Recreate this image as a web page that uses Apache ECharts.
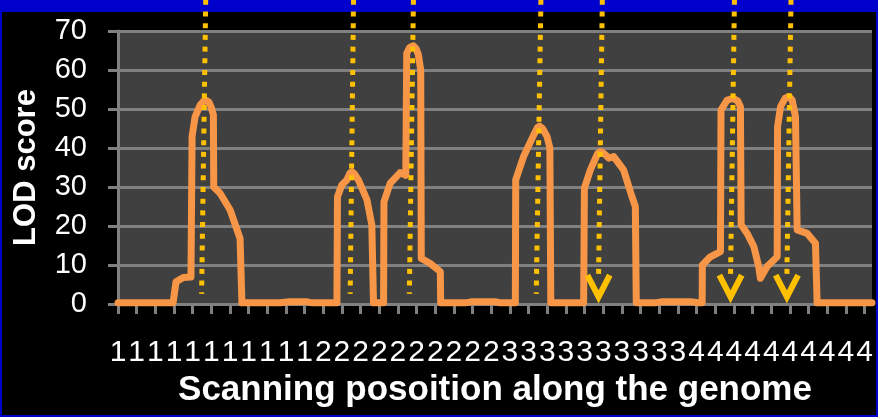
<!DOCTYPE html>
<html>
<head>
<meta charset="utf-8">
<title>LOD score</title>
<script src="https://cdn.jsdelivr.net/npm/echarts@6/dist/echarts.min.js"></script>
<style>
	html, body { margin: 0; padding: 0; background: #000; }
	#lodChart { width: 878px; height: 417px; }
</style>
</head>
<body>
<div id="lodChart"></div>
<script>
/* x axis tick labels, one per tick */
var tickLabels = ['1', '1', '1', '1', '1', '1', '1', '1', '1', '1', '1',
	'2', '2', '2', '2', '2', '2', '2', '2', '2', '2',
	'3', '3', '3', '3', '3', '3', '3', '3', '3', '3',
	'4', '4', '4', '4', '4', '4', '4', '4', '4', '4'];

/* scan position (in tick units) and LOD score */
var lodX = [0, 2.95, 3.11, 3.50, 3.91, 3.97, 4.13, 4.40, 4.58, 4.72, 4.87, 4.99, 5.11, 5.13, 5.47, 6.01, 6.54, 6.62, 6.64,
	8.69, 9.22, 10.08, 10.40, 11.73,
	11.76, 11.99, 12.26, 12.42, 12.53, 12.66, 12.88, 13.34, 13.60, 13.69, 14.23,
	14.25, 14.58, 15.12, 15.42, 15.47, 15.63, 15.83, 15.98, 16.09, 16.22, 16.25, 16.73, 17.27, 17.29,
	18.61, 18.98, 20.21, 20.48, 21.29,
	21.31, 21.73, 22.27, 22.47, 22.59, 22.75, 22.99, 23.14, 23.19, 24.95,
	24.99, 25.31, 25.70, 25.84, 25.98, 26.11, 26.29, 26.56, 27.09, 27.54, 27.72, 27.77,
	28.79, 29.17, 30.67, 31.10, 31.30,
	31.31, 31.74, 32.28, 32.31, 32.64, 32.96, 33.20, 33.35, 33.39, 33.71, 34.07, 34.33, 34.42, 34.78,
	35.32, 35.34, 35.50, 35.75, 35.94, 36.12, 36.30, 36.39, 36.93, 37.37, 37.46, 40.40];
var lodY = [0.3, 0.3, 5.7, 6.8, 6.9, 43, 48, 51, 52, 52.2, 51.8, 50.5, 48.5, 30, 28.4, 24.1, 16.8, 16.3, 0.3,
	0.3, 0.6, 0.6, 0.3, 0.3,
	27.5, 30.5, 31.8, 33.5, 33.9, 33.4, 31.8, 26.7, 20.3, 0.3, 0.3,
	26.2, 30.9, 33.7, 33.0, 64.3, 65.8, 66.2, 65.4, 64, 60, 11.7, 10.4, 8.3, 0.3,
	0.3, 0.6, 0.6, 0.3, 0.3,
	31.8, 37.8, 43.3, 45.2, 45.6, 45, 42.9, 40, 0.3, 0.3,
	29.7, 34.4, 38.6, 39.1, 38.8, 38.3, 37.4, 37.8, 34.4, 27.5, 25, 0.3,
	0.3, 0.6, 0.6, 0.3, 0.3,
	10, 12.1, 13.4, 49.7, 52.3, 52.7, 52.1, 50.6, 20.3, 18.1, 14.7, 9.6, 6.6, 9.6,
	12.1, 45.5, 50.6, 52.8, 53.2, 52.3, 48, 19, 18.1, 15.6, 0.3, 0.3];

/* peak markers: x at top and bottom of the dotted line, and which end in an arrow */
var markerTopX = [4.70, 12.62, 15.83, 22.66, 25.95, 33.03, 36.06];
var markerBottomX = [4.48, 12.44, 15.61, 22.41, 25.75, 32.82, 35.84];
var markerArrow = [false, false, false, false, true, true, true];

var markerTopY = 78;
var markerEndY = 2.6;
var arrowTopY = 7.4;
var arrowTipY = 1.8;
var arrowHalf = 0.6;

var lineColor = '#F79646';
var markColor = '#FFC000';
var gridGray = '#808080';
var fontName = "'Liberation Sans', Arial, sans-serif";

window.onload = function() {
	var chart = echarts.init(document.getElementById('lodChart'));

	var tickValues = tickLabels.map(function(l, i) { return i; });
	var lodData = lodX.map(function(x, i) { return [x, lodY[i]]; });

	var series = [{
		name: 'LOD',
		type: 'line',
		data: lodData,
		symbol: 'none',
		lineStyle: { color: lineColor, width: 7, join: 'round', cap: 'round' },
		z: 2
	}];

	// dotted markers, some with a chevron at the bottom
	markerTopX.forEach(function(tx, i) {
		var bx = markerBottomX[i];
		series.push({
			type: 'line',
			data: [[tx, markerTopY], [bx, markerArrow[i] ? arrowTopY : markerEndY]],
			symbol: 'none',
			clip: false,
			silent: true,
			lineStyle: { color: markColor, width: 5, type: [5, 6.7], cap: 'butt' },
			z: 3
		});
		if (markerArrow[i]) {
			series.push({
				type: 'line',
				data: [[bx - arrowHalf, arrowTopY], [bx, arrowTipY], [bx + arrowHalf, arrowTopY]],
				symbol: 'none',
				clip: false,
				silent: true,
				lineStyle: { color: markColor, width: 6, join: 'miter' },
				z: 3
			});
		}
	});

	var option = {
		animation: false,
		backgroundColor: '#000',
		textStyle: { fontFamily: fontName },
		graphic: [
			{ type: 'rect', shape: { x: 0, y: 0, width: 878, height: 12 }, style: { fill: '#0000CC' }, silent: true },
			{ type: 'rect', shape: { x: 0, y: 0, width: 2, height: 417 }, style: { fill: '#0000CC' }, silent: true },
			{ type: 'rect', shape: { x: 876, y: 0, width: 2, height: 417 }, style: { fill: '#0000CC' }, silent: true },
			{ type: 'rect', shape: { x: 0, y: 415, width: 878, height: 2 }, style: { fill: '#0000CC' }, silent: true }
		],
		grid: {
			left: 118,
			right: 6,
			top: 31,
			bottom: 113,
			show: true,
			backgroundColor: '#404040',
			borderWidth: 0
		},
		xAxis: {
			type: 'value',
			min: 0,
			max: 40.4,
			name: 'Scanning posoition along the genome',
			nameLocation: 'middle',
			nameGap: 67,
			nameTextStyle: { color: '#fff', fontSize: 35, fontWeight: 'bold', fontFamily: fontName },
			axisLine: { show: true, lineStyle: { color: gridGray, width: 3 } },
			axisTick: { show: true, length: 10, customValues: tickValues, lineStyle: { color: gridGray, width: 3 } },
			axisLabel: {
				customValues: tickValues,
				formatter: function(v) { return tickLabels[Math.round(v)]; },
				color: '#fff',
				fontSize: 30,
				margin: 34,
				fontFamily: fontName
			},
			splitLine: { show: false }
		},
		yAxis: {
			type: 'value',
			min: 0,
			max: 70,
			interval: 10,
			name: 'LOD score',
			nameLocation: 'middle',
			nameRotate: 90,
			nameGap: 76,
			nameTextStyle: { color: '#fff', fontSize: 31, fontWeight: 'bold', fontFamily: fontName },
			axisLine: { show: true, lineStyle: { color: gridGray, width: 3 } },
			axisTick: { show: true, length: 10, lineStyle: { color: gridGray, width: 3 } },
			axisLabel: { color: '#fff', fontSize: 29, margin: 31, fontFamily: fontName },
			splitLine: { show: true, lineStyle: { color: gridGray, width: 3 } }
		},
		series: series
	};
	chart.setOption(option);
};
</script>
</body>
</html>
